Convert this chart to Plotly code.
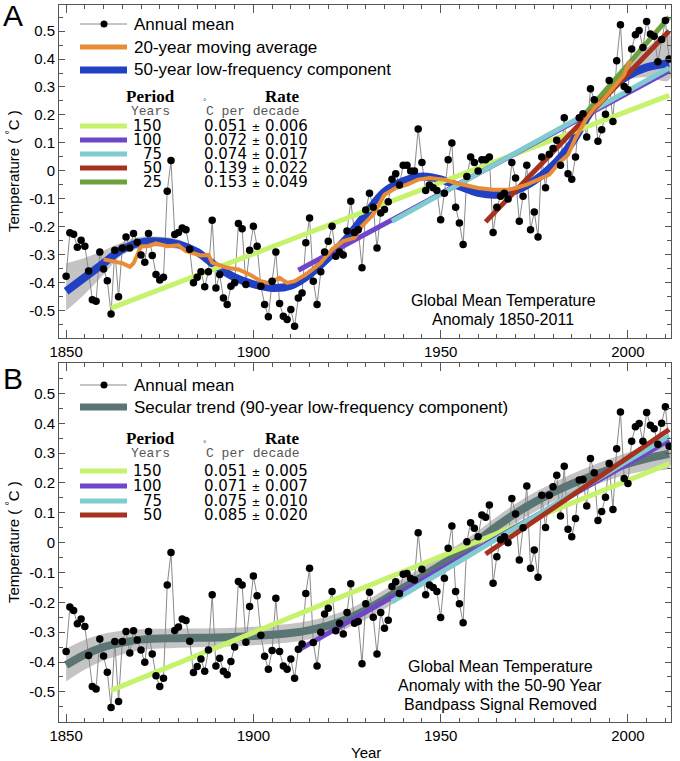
import plotly.graph_objects as go

# ---------------- data ----------------
years = list(range(1850, 2012))

# Panel A: annual global mean temperature anomaly (deg C)
annual_a = [
    -0.376, -0.221, -0.226, -0.273, -0.248, -0.269, -0.358, -0.460, -0.466, -0.290,
    -0.350, -0.392, -0.511, -0.283, -0.450, -0.275, -0.236, -0.275, -0.224, -0.255,
    -0.300, -0.326, -0.224, -0.302, -0.370, -0.390, -0.380, -0.073, 0.037, -0.227,
    -0.220, -0.204, -0.210, -0.280, -0.400, -0.380, -0.360, -0.414, -0.360, -0.176,
    -0.418, -0.370, -0.454, -0.477, -0.412, -0.400, -0.188, -0.207, -0.406, -0.283,
    -0.198, -0.269, -0.412, -0.477, -0.521, -0.394, -0.290, -0.474, -0.519, -0.531,
    -0.495, -0.555, -0.454, -0.436, -0.257, -0.168, -0.394, -0.477, -0.360, -0.290,
    -0.251, -0.198, -0.305, -0.290, -0.300, -0.215, -0.108, -0.220, -0.210, -0.346,
    -0.140, -0.080, -0.130, -0.275, -0.150, -0.138, -0.110, -0.030, -0.010, -0.050,
    0.020, 0.020, 0.000, 0.000, 0.150, 0.030, -0.070, -0.050, -0.060, -0.070,
    -0.174, -0.080, 0.040, 0.100, -0.130, -0.186, -0.263, -0.020, 0.050, 0.030,
    0.000, 0.040, 0.040, 0.050, -0.220, -0.130, -0.090, -0.080, -0.100, 0.030,
    -0.025, -0.180, -0.090, 0.020, -0.210, -0.147, -0.236, 0.050, -0.060, 0.060,
    0.080, 0.110, 0.020, 0.190, -0.010, -0.030, 0.050, 0.190, 0.204, 0.121,
    0.294, 0.254, 0.106, 0.147, 0.203, 0.323, 0.177, 0.394, 0.522, 0.302,
    0.290, 0.436, 0.487, 0.502, 0.441, 0.534, 0.489, 0.481, 0.390, 0.470,
    0.538, 0.400,
]

# Panel B: annual mean with the 50-90 year bandpass signal removed
annual_b = [
    -0.365, -0.216, -0.227, -0.272, -0.256, -0.281, -0.378, -0.482, -0.490, -0.323,
    -0.380, -0.434, -0.552, -0.331, -0.532, -0.331, -0.298, -0.370, -0.295, -0.326,
    -0.360, -0.401, -0.298, -0.373, -0.446, -0.482, -0.454, -0.142, -0.033, -0.294,
    -0.283, -0.256, -0.261, -0.330, -0.435, -0.415, -0.390, -0.431, -0.360, -0.175,
    -0.413, -0.387, -0.431, -0.443, -0.398, -0.350, -0.130, -0.142, -0.334, -0.214,
    -0.112, -0.178, -0.310, -0.381, -0.424, -0.361, -0.186, -0.365, -0.413, -0.424,
    -0.390, -0.454, -0.357, -0.340, -0.170, -0.086, -0.335, -0.413, -0.300, -0.239,
    -0.220, -0.164, -0.295, -0.270, -0.306, -0.234, -0.138, -0.270, -0.264, -0.406,
    -0.205, -0.166, -0.250, -0.373, -0.234, -0.287, -0.260, -0.147, -0.131, -0.170,
    -0.106, -0.103, -0.120, -0.125, 0.033, -0.089, -0.175, -0.142, -0.150, -0.164,
    -0.251, -0.119, -0.019, 0.056, -0.164, -0.205, -0.268, 0.003, 0.067, 0.048,
    0.020, 0.093, 0.085, 0.126, -0.136, -0.047, 0.010, 0.020, 0.000, 0.148,
    0.096, -0.058, 0.050, 0.190, -0.086, -0.025, -0.116, 0.159, 0.051, 0.159,
    0.187, 0.226, 0.089, 0.256, 0.045, 0.020, 0.081, 0.210, 0.212, 0.123,
    0.282, 0.234, 0.074, 0.104, 0.152, 0.265, 0.111, 0.315, 0.438, 0.215,
    0.198, 0.340, 0.388, 0.399, 0.340, 0.436, 0.393, 0.382, 0.330, 0.400,
    0.455, 0.323,
]

# 20-year moving average (panel A)
ma20_years = [1860, 1862, 1865, 1867, 1868, 1870, 1872, 1874, 1877, 1880, 1882, 1886,
              1888, 1889, 1893, 1896, 1899, 1902, 1904, 1907, 1909, 1911, 1914, 1918,
              1921, 1924, 1927, 1929, 1932, 1935, 1938, 1941, 1944, 1947, 1951, 1954,
              1958, 1960, 1964, 1968, 1970, 1973, 1976, 1979, 1982, 1984, 1986, 1989,
              1991, 1993, 1996, 1999, 2000, 2001]
ma20_vals = [-0.316, -0.322, -0.330, -0.343, -0.330, -0.270, -0.268, -0.259, -0.269, -0.266,
             -0.287, -0.302, -0.300, -0.328, -0.346, -0.352, -0.370, -0.394, -0.400, -0.382,
             -0.400, -0.394, -0.370, -0.328, -0.280, -0.251, -0.239, -0.197, -0.156, -0.085,
             -0.061, -0.049, -0.031, -0.025, -0.031, -0.043, -0.055, -0.061, -0.067, -0.067,
             -0.061, -0.049, -0.031, -0.013, 0.034, 0.058, 0.117, 0.189, 0.225, 0.249,
             0.296, 0.344, 0.379, 0.391]

# 50-year low-frequency component with its uncertainty band (panel A)
lf50_years = [1850, 1855, 1860, 1865, 1870, 1875, 1880, 1885, 1890, 1895, 1900,
              1905, 1910, 1915, 1920, 1925, 1930, 1935, 1940, 1945, 1950, 1955,
              1960, 1965, 1970, 1975, 1980, 1985, 1990, 1995, 2000, 2005, 2011]
lf50_vals = [-0.43, -0.38, -0.33, -0.28, -0.255, -0.252, -0.262, -0.29, -0.34, -0.38, -0.405,
             -0.418, -0.41, -0.37, -0.31, -0.24, -0.155, -0.075, -0.037, -0.02, -0.03, -0.055,
             -0.078, -0.085, -0.07, -0.035, 0.02, 0.10, 0.21, 0.29, 0.34, 0.37, 0.385]
lf50_hi = [-0.33, -0.31, -0.285, -0.255, -0.235, -0.235, -0.245, -0.278, -0.328, -0.368, -0.393,
           -0.406, -0.398, -0.358, -0.298, -0.228, -0.143, -0.063, -0.025, -0.008, -0.018, -0.043,
           -0.066, -0.073, -0.058, -0.023, 0.032, 0.112, 0.222, 0.305, 0.37, 0.44, 0.49]
lf50_lo = [-0.50, -0.44, -0.37, -0.30, -0.275, -0.27, -0.28, -0.302, -0.352, -0.392, -0.417,
           -0.43, -0.422, -0.382, -0.322, -0.252, -0.167, -0.087, -0.049, -0.032, -0.042, -0.067,
           -0.09, -0.097, -0.082, -0.047, 0.008, 0.088, 0.198, 0.275, 0.325, 0.335, 0.325]

# secular trend (90-year low-frequency component) with band (panel B)
sec_years = [1850, 1855, 1860, 1865, 1870, 1880, 1890, 1900, 1910, 1915, 1920, 1925, 1930,
             1935, 1940, 1945, 1950, 1955, 1960, 1965, 1970, 1975, 1980, 1985, 1990, 1995,
             2000, 2005, 2011]
sec_vals = [-0.41, -0.375, -0.35, -0.335, -0.325, -0.32, -0.318, -0.313, -0.303, -0.293,
            -0.278, -0.256, -0.226, -0.19, -0.152, -0.115, -0.075, -0.036, 0.008, 0.055,
            0.098, 0.135, 0.168, 0.197, 0.222, 0.245, 0.265, 0.282, 0.298]
sec_hi = [-0.355, -0.325, -0.305, -0.295, -0.29, -0.288, -0.287, -0.282, -0.272, -0.262,
          -0.247, -0.225, -0.195, -0.158, -0.12, -0.083, -0.043, -0.004, 0.04, 0.087,
          0.13, 0.168, 0.2, 0.23, 0.256, 0.28, 0.302, 0.322, 0.345]
sec_lo = [-0.465, -0.425, -0.395, -0.375, -0.36, -0.352, -0.349, -0.344, -0.334, -0.324,
          -0.309, -0.287, -0.257, -0.222, -0.184, -0.147, -0.107, -0.068, -0.024, 0.023,
          0.066, 0.102, 0.136, 0.164, 0.188, 0.21, 0.228, 0.242, 0.251]

# linear trends over the last N years (end year 2011)
trend_end = 2011
periods_a = ["150", "100", "75", "50", "25"]
rates_a = ["0.051", "0.072", "0.074", "0.139", "0.153"]
errs_a = ["0.006", "0.010", "0.017", "0.022", "0.049"]
trend_start_a = [1862, 1912, 1937, 1962, 1987]
trend_y0_a = [-0.49, -0.355, -0.18, -0.182, 0.18]
trend_y1_a = [0.27, 0.358, 0.368, 0.50, 0.55]

periods_b = ["150", "100", "75", "50"]
rates_b = ["0.051", "0.071", "0.075", "0.085"]
errs_b = ["0.005", "0.007", "0.010", "0.020"]
trend_start_b = [1862, 1912, 1937, 1962]
trend_y0_b = [-0.495, -0.36, -0.198, -0.038]
trend_y1_b = [0.265, 0.343, 0.357, 0.379]

trend_colors = ["#c6f26c", "#6f45c9", "#7fcbd0", "#a5321f", "#6ba23d"]

# ---------------- styling ----------------
SANS = "Liberation Sans"
SERIF = "Liberation Serif"
MONO = "Liberation Mono"
NUM = "DejaVu Sans"
GREY_LINE = "#8a8a8a"
BAND = "#c4c4c4"
ORANGE = "#e98c37"
BLUE = "#2141c2"
SLATE = "#5b7474"
FRAME = "#555555"

W, H = 680, 761
L, R, T, B = 59, 9, 5, 39


def px(x):
    return (x - L) / (W - L - R)


def py(y):
    return (H - B - y) / (H - T - B)


fig = go.Figure()

# ---- panel A ----
fig.add_trace(go.Scatter(x=lf50_years + lf50_years[::-1], y=lf50_hi + lf50_lo[::-1],
                         fill="toself", fillcolor=BAND, line=dict(width=0),
                         mode="lines", line_shape="spline", xaxis="x", yaxis="y", showlegend=False))
fig.add_trace(go.Scatter(x=years, y=annual_a, mode="lines",
                         line=dict(color=GREY_LINE, width=1), xaxis="x", yaxis="y", showlegend=False))
fig.add_trace(go.Scatter(x=lf50_years, y=lf50_vals, mode="lines", line_shape="spline",
                         line=dict(color=BLUE, width=8), xaxis="x", yaxis="y", showlegend=False))
for i in [0, 1, 2, 4, 3]:
    fig.add_trace(go.Scatter(x=[trend_start_a[i], trend_end], y=[trend_y0_a[i], trend_y1_a[i]],
                             mode="lines", line=dict(color=trend_colors[i], width=5),
                             xaxis="x", yaxis="y", showlegend=False))
fig.add_trace(go.Scatter(x=ma20_years, y=ma20_vals, mode="lines",
                         line=dict(color=ORANGE, width=4), xaxis="x", yaxis="y", showlegend=False))
fig.add_trace(go.Scatter(x=years, y=annual_a, mode="markers",
                         marker=dict(color="black", size=7.5), xaxis="x", yaxis="y", showlegend=False))

# ---- panel B ----
fig.add_trace(go.Scatter(x=sec_years + sec_years[::-1], y=sec_hi + sec_lo[::-1],
                         fill="toself", fillcolor=BAND, line=dict(width=0),
                         mode="lines", line_shape="spline", xaxis="x2", yaxis="y2", showlegend=False))
fig.add_trace(go.Scatter(x=years, y=annual_b, mode="lines",
                         line=dict(color=GREY_LINE, width=1), xaxis="x2", yaxis="y2", showlegend=False))
fig.add_trace(go.Scatter(x=sec_years, y=sec_vals, mode="lines", line_shape="spline",
                         line=dict(color=SLATE, width=8), xaxis="x2", yaxis="y2", showlegend=False))
for i in range(4):
    fig.add_trace(go.Scatter(x=[trend_start_b[i], trend_end], y=[trend_y0_b[i], trend_y1_b[i]],
                             mode="lines", line=dict(color=trend_colors[i], width=5),
                             xaxis="x2", yaxis="y2", showlegend=False))
fig.add_trace(go.Scatter(x=years, y=annual_b, mode="markers",
                         marker=dict(color="black", size=7.5), xaxis="x2", yaxis="y2", showlegend=False))

# ---------------- axes ----------------
ytickvals = [-0.5, -0.4, -0.3, -0.2, -0.1, 0, 0.1, 0.2, 0.3, 0.4, 0.5]
yticktext = ["-0.5", "-0.4", "-0.3", "-0.2", "-0.1", "0", "0.1", "0.2", "0.3", "0.4", "0.5"]
xaxis_style = dict(range=[1848.1, 2011.5], tickmode="array", tickvals=[1850, 1900, 1950, 2000],
                   ticks="inside", ticklen=8, tickcolor=FRAME, showline=True, linecolor=FRAME,
                   linewidth=1, mirror="ticks", showgrid=False, zeroline=False,
                   tickfont=dict(family=SANS, size=15, color="black"),
                   minor=dict(ticks="inside", dtick=5, tick0=1850, ticklen=4, tickcolor=FRAME,
                              showgrid=False))
yaxis_style = dict(tickmode="array", tickvals=ytickvals, ticktext=yticktext,
                   ticks="inside", ticklen=6, tickcolor=FRAME, showline=True, linecolor=FRAME,
                   linewidth=1, mirror="ticks", showgrid=False, zeroline=False,
                   tickfont=dict(family=SANS, size=15, color="black"),
                   minor=dict(ticks="inside", dtick=0.05, tick0=0, ticklen=4, tickcolor=FRAME,
                              showgrid=False))

fig.update_layout(
    width=W, height=H, margin=dict(l=L, r=R, t=T, b=B),
    plot_bgcolor="white", paper_bgcolor="white", showlegend=False,
    xaxis=dict(xaxis_style, domain=[0, 1], anchor="y"),
    yaxis=dict(yaxis_style, domain=[py(338), 1], range=[-0.597, 0.593], anchor="x"),
    xaxis2=dict(xaxis_style, domain=[0, 1], anchor="y2"),
    yaxis2=dict(yaxis_style, domain=[0, py(363)], range=[-0.601, 0.602], anchor="x2"),
)

# ---------------- legends, labels ----------------
shapes = []
ann = []


def text(x, y, s, size, family=SANS, anchor="left", color="black", angle=0):
    ann.append(dict(x=px(x), y=py(y), xref="paper", yref="paper", text=s, showarrow=False,
                    xanchor=anchor, yanchor="middle", textangle=angle,
                    font=dict(family=family, size=size, color=color)))


def swatch(y, color, width):
    shapes.append(dict(type="line", xref="paper", yref="paper", x0=px(80), x1=px(127),
                       y0=py(y), y1=py(y), line=dict(color=color, width=width)))


def dot_swatch(y):
    swatch(y, GREY_LINE, 1)
    shapes.append(dict(type="circle", xref="paper", yref="paper", x0=px(100.5), x1=px(107.5),
                       y0=py(y + 3.5), y1=py(y - 3.5), fillcolor="black", line=dict(width=0)))


def rate_table(y_head, row_ys, periods, rates, errs):
    text(150, y_head, "<b>Period</b>", 17, SERIF, "center")
    text(282, y_head, "<b>Rate</b>", 17, SERIF, "center")
    text(150, y_head + 15, "Years", 13, MONO, "center", "#555555")
    text(200, y_head + 6, "°", 9, MONO, "left", "#555555")
    text(204, y_head + 15, "C per decade", 13, MONO, "left", "#555555")
    for i, yy in enumerate(row_ys):
        swatch(yy, trend_colors[i], 5)
        text(164, yy, periods[i], 15, NUM, "right")
        text(202, yy, rates[i] + " <span style='font-size:10px'>±</span> " + errs[i], 15, NUM, "left")


# panel A legend
dot_swatch(24)
text(132, 24, "Annual mean", 17)
swatch(47, ORANGE, 5)
text(132, 47, "20-year moving average", 17)
swatch(70, BLUE, 7)
text(132, 70, "50-year low-frequency component", 17)
rate_table(96, [126, 140, 154, 168, 182], periods_a, rates_a, errs_a)

# panel B legend
dot_swatch(385)
text(132, 385, "Annual mean", 17)
swatch(407, SLATE, 7)
text(132, 407, "Secular trend (90-year low-frequency component)", 17)
rate_table(438, [471, 486, 501, 515], periods_b, rates_b, errs_b)

# panel captions
text(503, 300, "Global Mean Temperature", 16, anchor="center")
text(503, 319, "Anomaly 1850-2011", 16, anchor="center")
text(500, 666, "Global Mean Temperature", 16, anchor="center")
text(500, 685, "Anomaly with the 50-90 Year", 16, anchor="center")
text(500, 704, "Bandpass Signal Removed", 16, anchor="center")

# panel letters, axis titles
text(13, 16, "A", 30, anchor="center")
text(13, 378, "B", 30, anchor="center")
text(12, 171, "Temperature ( <sup>°</sup>C )", 15, angle=-90, anchor="center")
text(12, 542, "Temperature ( <sup>°</sup>C )", 15, angle=-90, anchor="center")
text(366, 752, "Year", 15, anchor="center")

fig.update_layout(shapes=shapes, annotations=ann)
# drop the default page margin so the figure sits at the window's top-left corner
fig.write_html("out.html", config={"displayModeBar": False},
               post_script="document.body.style.margin='0';")
